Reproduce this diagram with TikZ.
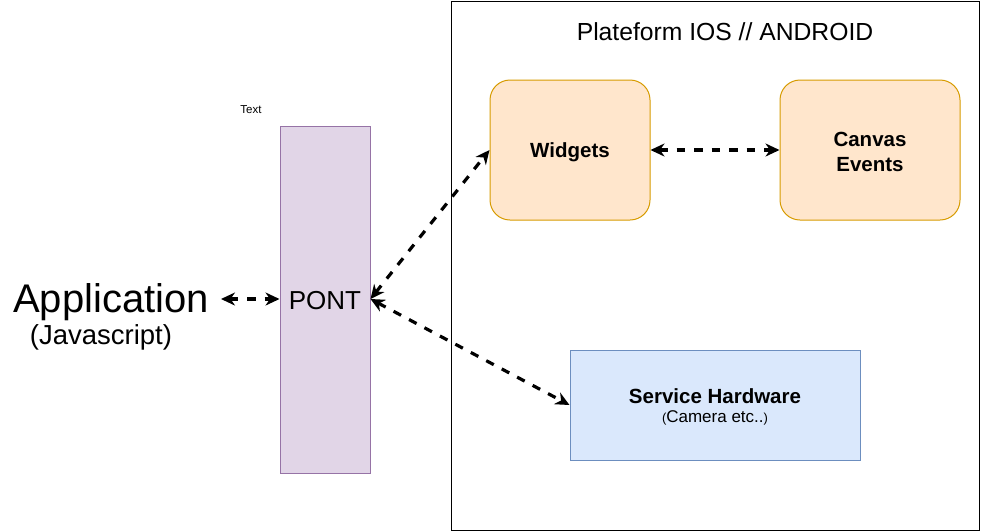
\documentclass[tikz,border=0pt]{standalone}
\usepackage{fontspec}
\setmainfont{Liberation Sans}
\usetikzlibrary{arrows.meta}
\definecolor{orfill}{HTML}{FFE6CC}
\definecolor{ordraw}{HTML}{D79B00}
\definecolor{blfill}{HTML}{DAE8FC}
\definecolor{bldraw}{HTML}{6C8EBF}
\definecolor{pufill}{HTML}{E1D5E7}
\definecolor{pudraw}{HTML}{9673A6}
\tikzset{
  fsz/.style={font=\fontsize{#1}{#1}\selectfont},
  bfz/.style={font=\bfseries\fontsize{#1}{25}\selectfont},
  orbox/.style={draw=ordraw, fill=orfill, line width=1pt, rounded corners=20pt, minimum width=160pt, minimum height=140pt, inner sep=0pt},
  link/.style={line width=3.2pt, dash pattern=on 8.5pt off 9pt, {Stealth[length=14pt,width=13pt,inset=4.5pt]}-{Stealth[length=14pt,width=13pt,inset=4.5pt]}},
}
\begin{document}
\begin{tikzpicture}[x=1pt,y=-1pt]
\useasboundingbox (0,0) rectangle (981,531);
\node[draw=black, line width=1pt, minimum width=528pt, minimum height=529pt, inner sep=0pt, anchor=north west] (plat) at (451,1) {};
\node[fsz=24.7] (title) at (725,32) {Plateform IOS // ANDROID};
\node[orbox, minimum width=160pt] (wid) at (570,150) {};
\node[bfz=20.5] (widt) at (570,152) {Widgets};
\node[orbox, minimum width=180pt] (can) at (870,150) {};
\node[bfz=20.5, align=center] (cant) at (870,152) {Canvas\\Events};
\node[draw=bldraw, fill=blfill, line width=1pt, minimum width=290pt, minimum height=110pt, inner sep=0pt] (svc) at (715,405) {};
\node[bfz=20.5] (svct) at (715,396) {Service Hardware};
\node (svcs) at (715,418) {{\fontsize{13}{15}\selectfont(}\fontsize{17}{20}\selectfont Camera etc..{\fontsize{13}{15}\selectfont)}};
\node[draw=pudraw, fill=pufill, line width=1pt, minimum width=90pt, minimum height=347pt, inner sep=0pt] (pont) at (325,299.5) {};
\node[fsz=26] (pontt) at (325,301) {PONT};
\coordinate (pr) at (370.5,299);
\coordinate (pl) at (279.5,299);
\node[fsz=11.5] (txt) at (251,110) {Text};
\node[fsz=40, inner sep=0pt] (app) at (111,302) {Application};
\node[fsz=27.5, inner sep=0pt] (js) at (101,337) {(Javascript)};
\coordinate (ae) at (221,299);
\draw[link] (ae) -- (pl);
\draw[link] (pr) -- (wid.west);
\draw[link] (pr) -- (svc.west);
\draw[link] (wid.east) -- (can.west);
\end{tikzpicture}
\end{document}
